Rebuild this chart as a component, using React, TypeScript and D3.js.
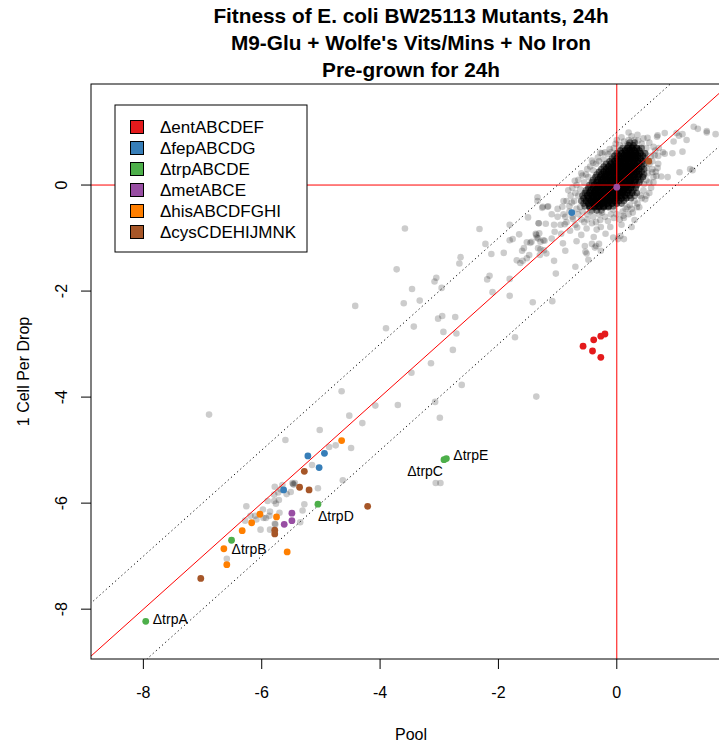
import React from "react";
import * as d3 from "d3";

// ---------- text ----------
const titleLines = [
  "Fitness of E. coli BW25113 Mutants, 24h",
  "M9-Glu + Wolfe's Vits/Mins + No Iron",
  "Pre-grown for 24h",
];
const xLabel = "Pool";
const yLabel = "1 Cell Per Drop";
const xTicks = [-8, -6, -4, -2, 0];
const yTicks = [-8, -6, -4, -2, 0];
const xDomain = [-8.885, 1.93];
const yDomain = [-8.94, 1.906];
const bandOffsets = [1, -1];

// ---------- groups ----------
const groupNames = ["ΔentABCDEF", "ΔfepABCDG", "ΔtrpABCDE", "ΔmetABCE", "ΔhisABCDFGHI", "ΔcysCDEHIJMNK"];
const groupColors = ["#E41A1C", "#377EB8", "#4DAF4A", "#984EA3", "#FF7F00", "#A65628"];

const entPoints: [number, number][] = [
  [-0.57, -3.04], [-0.39, -2.92], [-0.27, -2.85], [-0.2, -2.81], [-0.41, -3.13], [-0.27, -3.25],
];
const fepPoints: [number, number][] = [
  [-0.76, -0.52], [-5.22, -5.11], [-4.94, -5.06], [-5.03, -5.33], [-5.63, -5.75],
];
const trpPoints: [number, number][] = [
  [-7.96, -8.23], [-6.51, -6.7], [-2.92, -5.18], [-5.05, -6.02], [-2.88, -5.16],
];
const trpLabels = ["ΔtrpA", "ΔtrpB", "ΔtrpC", "ΔtrpD", "ΔtrpE"];
const metPoints: [number, number][] = [
  [0.0, -0.04], [-5.49, -6.19], [-5.49, -6.33], [-5.62, -6.4],
];
const hisPoints: [number, number][] = [
  [-4.65, -4.82], [-5.75, -6.26], [-6.03, -6.21], [-6.17, -6.37], [-6.33, -6.52], [-6.64, -6.86], [-6.59, -7.16], [-5.57, -6.92],
];
const cysPoints: [number, number][] = [
  [0.54, 0.45], [-5.28, -5.4], [-5.36, -5.7], [-5.2, -5.75], [-4.21, -6.06], [-5.78, -6.51], [-5.78, -6.58], [-7.03, -7.42],
];

// ---------- all other mutants (grey) ----------
const scatterPoints: [number, number][] = [
  [-3.58, -0.82], [-2.32, -0.83], [-3.72, -1.59], [-4.42, -2.28], [-2.64, -1.36], [-2.66, -1.48], [-3.05, -1.75], [-3.08, -1.82],
  [-2.96, -1.94], [-3.46, -1.96], [-3.33, -2.18], [-3.6, -2.23], [-3.9, -2.7], [-3.43, -2.67], [-3.02, -2.52], [-2.95, -2.47],
  [-2.73, -2.49], [-2.93, -2.77], [-2.71, -2.8], [-2.77, -3.11], [-3.14, -3.36], [-3.47, -3.54], [-2.22, -1.11], [-2.12, -1.3],
  [-1.91, -1.28], [-2.19, -1.78], [-2.15, -1.71], [-2.1, -2.02], [-1.81, -2.09], [-1.81, -1.77], [-1.72, -2.87], [-1.42, -2.21],
  [-1.81, -0.75], [-1.81, -1.04], [-1.76, -1.02], [-1.65, -0.93], [-1.6, -1.24], [-1.57, -1.19], [-1.52, -1.08], [-1.46, -1.09],
  [-1.5, -0.61], [-1.48, -1.32], [-1.69, -1.42], [-1.63, -1.47], [-1.59, -1.43], [-1.34, -0.3], [-1.26, -0.43], [-1.16, -0.4],
  [-1.32, -0.72], [-1.2, -0.73], [-1.36, -0.94], [-1.31, -0.91], [-1.33, -1.01], [-1.29, -1.07], [-1.22, -1.05], [-1.29, -1.21],
  [-1.19, -1.29], [-1.3, -1.32],
  [-3.7, -4.15], [-3.07, -4.09], [-2.99, -4.39], [-2.62, -3.77], [-1.09, -2.19], [-1.36, -3.99], [-3.06, -5.62], [-2.98, -5.62],
  [-6.89, -4.33], [-4.65, -3.89], [-4.52, -4.35], [-5.02, -4.62], [-5.6, -4.81], [-4.49, -4.96], [-4.86, -4.94], [-4.75, -4.91],
  [-5.15, -5.28], [-4.63, -5.57], [-5.05, -5.72], [-5.28, -6.02], [-5.78, -5.69], [-5.47, -5.64], [-5.46, -5.65], [-5.48, -5.62],
  [-5.44, -5.62], [-5.51, -5.79], [-5.58, -5.83], [-5.68, -5.74], [-5.72, -5.8], [-5.9, -5.96], [-5.79, -5.96], [-5.76, -6.01],
  [-6.26, -6.06], [-5.98, -6.12], [-5.86, -6.16], [-5.31, -6.14], [-5.7, -6.18], [-6.11, -6.24], [-5.93, -6.28], [-5.97, -6.28],
  [-5.87, -6.24], [-5.78, -6.39], [-6.09, -6.31], [-6.19, -6.24], [-5.35, -6.36],
  [-4.3, -4.49], [-4.08, -4.16], [-6.28, -6.33], [-6.02, -6.5], [-5.86, -6.5], [-5.77, -6.4], [-6.59, -7.05], [-5.65, -5.66],
  [-5.71, -5.94], [-5.79, -5.84],
  [0.2, 0.99], [0.36, 0.84], [0.52, 0.89], [0.68, 0.91], [0.69, 0.94], [0.81, 0.98], [1.01, 0.98], [1.11, 0.96],
  [1.3, 1.1], [1.37, 1.06], [1.52, 0.99], [1.67, 0.96], [0.96, 0.82], [1.11, 0.63], [0.94, 0.6], [0.81, 0.59],
  [0.64, 0.56], [0.71, 0.7], [1.06, 0.24], [1.28, 0.28], [0.86, 0.15], [0.67, 0.17], [0.69, 0.32], [0.6, 0.24],
  [-0.28, 0.61], [0.18, 0.77], [0.21, 0.58], [0.0, 0.6], [0.46, 0.02], [0.48, -0.27], [0.34, -0.42], [0.3, -0.66],
  [0.11, -0.58], [0.18, -0.42], [-0.06, -0.46], [0.08, -0.75], [0.06, -0.96], [-0.11, -0.79], [-0.27, -0.79], [-0.34, -0.84],
  [-0.39, -0.98], [-0.51, -0.82], [-0.74, -0.64], [-0.87, -0.6], [-0.92, -0.41], [-0.76, -0.33], [-0.71, 0.08], [-0.6, 0.22],
  [-0.42, 0.46], [-1.25, -0.41], [-1.17, -0.41], [-1.34, -0.23], [-1.32, -0.72], [-1.06, -0.75], [-1.05, -0.88], [-0.88, -0.74],
  [-0.79, -0.86], [-0.67, -0.8], [-0.6, -0.94], [-0.94, -0.92], [-1.1, -1.01], [-1.24, -1.04], [-1.35, -0.99], [-1.37, -0.92],
  [-0.91, -1.1], [-0.87, -1.24], [-0.68, -1.06], [-0.54, -1.15], [-0.42, -1.11], [-0.3, -1.11], [-0.27, -1.24], [-0.37, -1.18],
  [-0.53, -1.26], [-0.48, -1.41], [-0.7, -1.54], [-1.06, -1.43], [-1.23, -1.23], [-1.33, -1.19], [-1.44, -1.07], [-0.06, -0.99],
  [0.25, -0.79], [1.18, 0.85], [1.24, 0.3], [0.27, -0.52], [0.5, 0.09], [0.75, 0.16], [0.78, 0.62], [1.52, 1.02],
  [1.05, 0.93], [0.12, -1.02], [0.02, -1.02], [-0.19, -0.92], [-0.35, -1.15], [-0.51, -1.29], [-1.03, -1.67], [-1.52, -1.38],
];

// moderately dense ring round the central cloud
const haloPoints: [number, number][] = [
  [0.3, 0.85], [0.12, 0.82], [0.42, 0.78], [0.5, 0.7], [0.58, 0.55], [0.55, 0.4], [0.6, 0.3], [0.52, 0.22],
  [0.55, 0.05], [0.45, -0.1], [0.42, -0.25], [0.3, -0.3], [0.22, -0.38], [0.1, -0.5], [0.0, -0.55], [-0.1, -0.55],
  [-0.2, -0.6], [-0.3, -0.55], [-0.4, -0.6], [-0.5, -0.55], [-0.58, -0.5], [-0.68, -0.45], [-0.72, -0.3], [-0.65, -0.2],
  [-0.62, -0.08], [-0.55, 0.05], [-0.48, 0.15], [-0.4, 0.28], [-0.35, 0.4], [-0.22, 0.48], [-0.15, 0.58], [-0.05, 0.7],
  [0.05, 0.75], [0.38, 0.68], [0.48, 0.6], [0.5, 0.32], [0.4, -0.2], [0.15, -0.45], [-0.25, -0.52], [-0.45, -0.5],
  [-0.62, -0.42], [-0.7, -0.15], [-0.52, 0.2], [-0.3, 0.45], [-0.1, 0.62], [0.2, 0.85], [0.6, 0.45], [0.35, -0.35],
  [-0.8, -0.5], [-0.85, -0.3], [-0.75, -0.05], [-0.65, 0.1], [0.65, 0.65], [0.7, 0.4], [0.62, 0.15], [0.55, -0.15],
  [-0.35, -0.7], [-0.15, -0.68], [0.05, -0.65], [0.2, -0.55], [-0.55, -0.7], [-0.45, 0.35], [-0.25, 0.6], [0.0, 0.85],
  [-0.75, -0.6], [-0.85, -0.7], [-0.95, -0.75], [-0.7, -0.75], [-0.6, -0.65], [-0.8, -0.4], [-0.9, -0.55], [-1.0, -0.6],
  [-0.65, -0.55], [-0.5, -0.65], [-0.42, -0.72], [-0.28, -0.66], [-0.05, -0.62], [0.12, -0.62], [0.25, -0.45], [0.38, -0.42],
  [0.5, -0.2], [0.58, -0.05], [0.62, 0.05], [0.66, 0.25], [0.7, 0.55], [0.62, 0.72], [0.55, 0.8], [0.45, 0.88],
  [0.35, 0.95], [0.25, 0.92], [0.08, 0.9], [-0.02, 0.78], [-0.12, 0.68], [-0.2, 0.62], [-0.32, 0.52], [-0.4, 0.42],
  [-0.5, 0.3], [-0.58, 0.18], [-0.68, 0.0], [-0.78, -0.2], [-0.82, -0.1], [-0.9, -0.3], [-1.0, -0.45], [-1.1, -0.55],
];

// dense centre of the cloud: x, y, count of overlapping mutants
const cloudCore: [number, number, number][] = [
  [0.22, 0.8, 3], [0.3, 0.8, 3],
  [0.2, 0.75, 4], [0.28, 0.75, 4],
  [0.1, 0.7, 3], [0.18, 0.7, 6], [0.26, 0.7, 9], [0.34, 0.7, 6], [0.42, 0.7, 3],
  [0.06, 0.65, 4], [0.14, 0.65, 7], [0.22, 0.65, 9], [0.3, 0.65, 7], [0.38, 0.65, 4],
  [0.0, 0.6, 3], [0.08, 0.6, 6], [0.16, 0.6, 9], [0.24, 0.6, 9], [0.32, 0.6, 9], [0.4, 0.6, 6], [0.48, 0.6, 3],
  [-0.04, 0.55, 4], [0.04, 0.55, 7], [0.12, 0.55, 10], [0.2, 0.55, 10], [0.28, 0.55, 10], [0.36, 0.55, 7], [0.44, 0.55, 4],
  [-0.08, 0.5, 3], [0.0, 0.5, 6], [0.08, 0.5, 9], [0.16, 0.5, 9], [0.24, 0.5, 9], [0.32, 0.5, 9], [0.4, 0.5, 6], [0.48, 0.5, 3],
  [-0.12, 0.45, 4], [-0.04, 0.45, 7], [0.04, 0.45, 10], [0.12, 0.45, 10], [0.2, 0.45, 10], [0.28, 0.45, 10], [0.36, 0.45, 7], [0.44, 0.45, 4],
  [-0.18, 0.4, 3], [-0.1, 0.4, 6], [-0.02, 0.4, 9], [0.06, 0.4, 9], [0.14, 0.4, 9], [0.22, 0.4, 9], [0.3, 0.4, 9], [0.38, 0.4, 6], [0.46, 0.4, 3],
  [-0.22, 0.35, 4], [-0.14, 0.35, 7], [-0.06, 0.35, 10], [0.02, 0.35, 10], [0.1, 0.35, 10], [0.18, 0.35, 10], [0.26, 0.35, 10], [0.34, 0.35, 7], [0.42, 0.35, 4],
  [-0.26, 0.3, 3], [-0.18, 0.3, 6], [-0.1, 0.3, 9], [-0.02, 0.3, 9], [0.06, 0.3, 9], [0.14, 0.3, 9], [0.22, 0.3, 9], [0.3, 0.3, 9], [0.38, 0.3, 6], [0.46, 0.3, 3],
  [-0.3, 0.25, 4], [-0.22, 0.25, 7], [-0.14, 0.25, 10], [-0.06, 0.25, 10], [0.02, 0.25, 10], [0.1, 0.25, 10], [0.18, 0.25, 10], [0.26, 0.25, 10], [0.34, 0.25, 7], [0.42, 0.25, 4],
  [-0.34, 0.2, 3], [-0.26, 0.2, 6], [-0.18, 0.2, 9], [-0.1, 0.2, 9], [-0.02, 0.2, 9], [0.06, 0.2, 9], [0.14, 0.2, 9], [0.22, 0.2, 9], [0.3, 0.2, 9], [0.38, 0.2, 6], [0.46, 0.2, 3],
  [-0.36, 0.15, 4], [-0.28, 0.15, 7], [-0.2, 0.15, 10], [-0.12, 0.15, 10], [-0.04, 0.15, 10], [0.04, 0.15, 10], [0.12, 0.15, 10], [0.2, 0.15, 10], [0.28, 0.15, 10], [0.36, 0.15, 7], [0.44, 0.15, 4],
  [-0.4, 0.1, 3], [-0.32, 0.1, 6], [-0.24, 0.1, 9], [-0.16, 0.1, 9], [-0.08, 0.1, 9], [0.0, 0.1, 9], [0.08, 0.1, 9], [0.16, 0.1, 9], [0.24, 0.1, 9], [0.32, 0.1, 6], [0.4, 0.1, 3],
  [-0.42, 0.05, 4], [-0.34, 0.05, 7], [-0.26, 0.05, 10], [-0.18, 0.05, 10], [-0.1, 0.05, 10], [-0.02, 0.05, 10], [0.06, 0.05, 10], [0.14, 0.05, 10], [0.22, 0.05, 10], [0.3, 0.05, 7], [0.38, 0.05, 4],
  [-0.46, 0.0, 3], [-0.38, 0.0, 6], [-0.3, 0.0, 9], [-0.22, 0.0, 9], [-0.14, 0.0, 9], [-0.06, 0.0, 9], [0.02, 0.0, 9], [0.1, 0.0, 9], [0.18, 0.0, 9], [0.26, 0.0, 6], [0.34, 0.0, 3],
  [-0.48, -0.05, 4], [-0.4, -0.05, 7], [-0.32, -0.05, 10], [-0.24, -0.05, 10], [-0.16, -0.05, 10], [-0.08, -0.05, 10], [0.0, -0.05, 10], [0.08, -0.05, 10], [0.16, -0.05, 10], [0.24, -0.05, 7], [0.32, -0.05, 4],
  [-0.52, -0.1, 3], [-0.44, -0.1, 6], [-0.36, -0.1, 9], [-0.28, -0.1, 9], [-0.2, -0.1, 9], [-0.12, -0.1, 9], [-0.04, -0.1, 9], [0.04, -0.1, 9], [0.12, -0.1, 9], [0.2, -0.1, 6], [0.28, -0.1, 3],
  [-0.54, -0.15, 4], [-0.46, -0.15, 7], [-0.38, -0.15, 10], [-0.3, -0.15, 10], [-0.22, -0.15, 10], [-0.14, -0.15, 10], [-0.06, -0.15, 10], [0.02, -0.15, 10], [0.1, -0.15, 10], [0.18, -0.15, 7], [0.26, -0.15, 5], [0.34, -0.15, 3],
  [-0.58, -0.2, 3], [-0.5, -0.2, 6], [-0.42, -0.2, 9], [-0.34, -0.2, 9], [-0.26, -0.2, 9], [-0.18, -0.2, 9], [-0.1, -0.2, 9], [-0.02, -0.2, 9], [0.06, -0.2, 8], [0.14, -0.2, 6], [0.22, -0.2, 4], [0.3, -0.2, 2],
  [-0.56, -0.25, 4], [-0.48, -0.25, 7], [-0.4, -0.25, 10], [-0.32, -0.25, 10], [-0.24, -0.25, 10], [-0.16, -0.25, 10], [-0.08, -0.25, 10], [0.0, -0.25, 9], [0.08, -0.25, 7], [0.16, -0.25, 5], [0.24, -0.25, 3],
  [-0.6, -0.3, 3], [-0.52, -0.3, 6], [-0.44, -0.3, 8], [-0.36, -0.3, 9], [-0.28, -0.3, 9], [-0.2, -0.3, 9], [-0.12, -0.3, 8], [-0.04, -0.3, 7], [0.04, -0.3, 5], [0.12, -0.3, 3],
  [-0.56, -0.35, 3], [-0.48, -0.35, 6], [-0.4, -0.35, 8], [-0.32, -0.35, 9], [-0.24, -0.35, 9], [-0.16, -0.35, 8], [-0.08, -0.35, 7], [0.0, -0.35, 5], [0.08, -0.35, 3],
  [-0.54, -0.4, 3], [-0.46, -0.4, 5], [-0.38, -0.4, 7], [-0.3, -0.4, 7], [-0.22, -0.4, 6], [-0.14, -0.4, 5], [-0.06, -0.4, 3],
  [-0.46, -0.42, 3], [-0.38, -0.42, 5], [-0.3, -0.42, 6], [-0.22, -0.42, 5], [-0.14, -0.42, 3],
  [-0.42, -0.48, 2], [-0.34, -0.48, 3], [-0.26, -0.48, 2],
];

// ---------- layout ----------
const W = 719;
const H = 742;
const plot = { left: 91, top: 84, right: 731, bottom: 659 };
const font = "'Liberation Sans', Arial, Helvetica, sans-serif";
const labelOffsets = [
  { dx: 7, dy: 2.5, anchor: "start" },
  { dx: 0, dy: 14, anchor: "start" },
  { dx: -1, dy: 16, anchor: "end" },
  { dx: 0, dy: 16.5, anchor: "start" },
  { dx: 7, dy: 1.5, anchor: "start" },
];

export default function App() {
  const x = d3.scaleLinear().domain(xDomain).range([plot.left, plot.right]);
  const y = d3.scaleLinear().domain(yDomain).range([plot.bottom, plot.top]);
  const groups = [entPoints, fepPoints, trpPoints, metPoints, hisPoints, cysPoints];

  const lineGen = d3.line<[number, number]>().x((d) => x(d[0])).y((d) => y(d[1]));
  const diag = (c: number) => lineGen([[-20, -20 + c], [20, 20 + c]]) as string;

  const grey: [number, number][] = [...scatterPoints, ...haloPoints];
  const coreCircles: [number, number][] = cloudCore.flatMap(([cx, cy, n]) =>
    Array.from({ length: n }, () => [cx, cy] as [number, number])
  );

  return (
    <svg width={W} height={H} style={{ position: "absolute", left: 0, top: 0, background: "#fff" }} fontFamily={font}>
      <defs>
        <clipPath id="plotClip">
          <rect x={plot.left} y={plot.top} width={plot.right - plot.left} height={plot.bottom - plot.top} />
        </clipPath>
      </defs>
      <rect x={0} y={0} width={W} height={H} fill="#fff" />

      {/* title */}
      {titleLines.map((t, i) => (
        <text key={t} x={(plot.left + plot.right) / 2} y={22.5 + i * 27} textAnchor="middle" fontWeight="bold" fontSize={20.8}>
          {t}
        </text>
      ))}

      <g clipPath="url(#plotClip)">
        {/* grey mutants */}
        <g fill="#000" fillOpacity={0.2}>
          {grey.map((d, i) => (
            <circle key={"g" + i} cx={x(d[0])} cy={y(d[1])} r={3.3} />
          ))}
          {coreCircles.map((d, i) => (
            <circle key={"c" + i} cx={x(d[0])} cy={y(d[1])} r={3.3} />
          ))}
        </g>

        {/* reference lines */}
        <line x1={plot.left} x2={plot.right} y1={y(0)} y2={y(0)} stroke="#ff0000" strokeWidth={1} />
        <line x1={x(0)} x2={x(0)} y1={plot.top} y2={plot.bottom} stroke="#ff0000" strokeWidth={1} />
        <path d={diag(0)} stroke="#ff0000" strokeWidth={1} fill="none" />
        {bandOffsets.map((c) => (
          <path key={c} d={diag(c)} stroke="#000" strokeWidth={1} strokeDasharray="1.2,3" fill="none" />
        ))}

        {/* highlighted groups */}
        {groups.map((pts, gi) =>
          pts.map((d, i) => (
            <circle key={gi + "-" + i} cx={x(d[0])} cy={y(d[1])} r={3.4} fill={groupColors[gi]} />
          ))
        )}

        {/* trp labels */}
        {trpPoints.map((d, i) => (
          <text
            key={trpLabels[i]}
            x={x(d[0]) + labelOffsets[i].dx}
            y={y(d[1]) + labelOffsets[i].dy}
            textAnchor={labelOffsets[i].anchor}
            fontSize={14}
          >
            {trpLabels[i]}
          </text>
        ))}
      </g>

      {/* frame */}
      <rect x={plot.left} y={plot.top} width={plot.right - plot.left} height={plot.bottom - plot.top} fill="none" stroke="#000" strokeWidth={1} />

      {/* x axis */}
      {xTicks.map((t) => (
        <g key={"xt" + t}>
          <line x1={x(t)} x2={x(t)} y1={plot.bottom} y2={plot.bottom + 10} stroke="#000" />
          <text x={x(t)} y={698} textAnchor="middle" fontSize={16}>
            {t}
          </text>
        </g>
      ))}
      <text x={(plot.left + plot.right) / 2} y={740} textAnchor="middle" fontSize={16}>
        {xLabel}
      </text>

      {/* y axis */}
      {yTicks.map((t) => (
        <g key={"yt" + t}>
          <line x1={plot.left - 10} x2={plot.left} y1={y(t)} y2={y(t)} stroke="#000" />
          <text transform={`translate(67,${y(t)}) rotate(-90)`} textAnchor="middle" fontSize={16}>
            {t}
          </text>
        </g>
      ))}
      <text transform={`translate(29,${(plot.top + plot.bottom) / 2}) rotate(-90)`} textAnchor="middle" fontSize={16}>
        {yLabel}
      </text>

      {/* legend */}
      <rect x={115} y={105} width={192} height={147} fill="#fff" stroke="#000" strokeWidth={1} />
      {groupNames.map((name, i) => (
        <g key={name}>
          <rect x={130.5} y={120.5 + i * 21} width={13} height={13} fill={groupColors[i]} stroke="#000" strokeWidth={1} />
          <text x={160} y={133 + i * 21} fontSize={17}>
            {name}
          </text>
        </g>
      ))}
    </svg>
  );
}
